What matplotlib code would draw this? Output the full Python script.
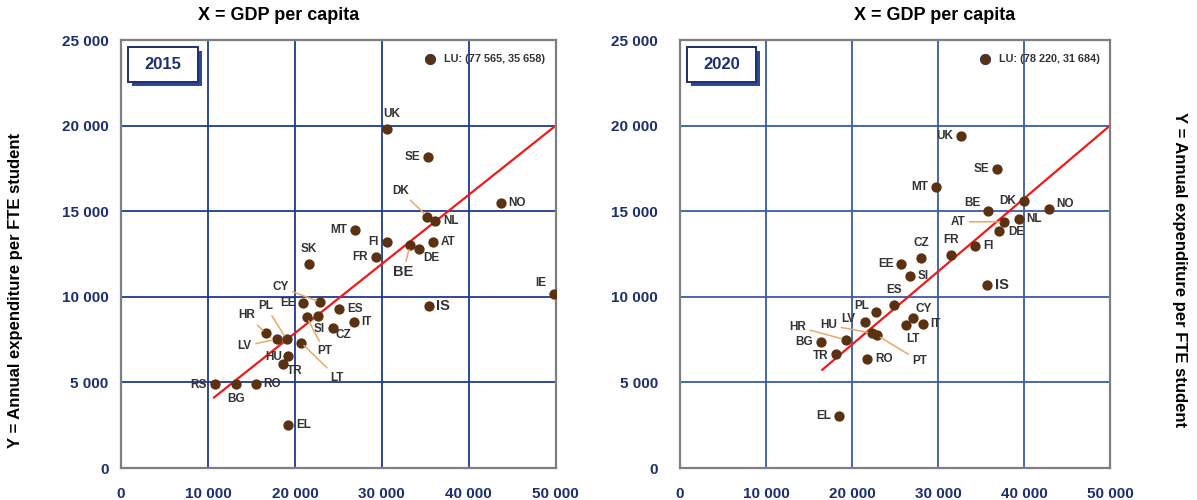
import numpy as np
import matplotlib
matplotlib.use('Agg')
import matplotlib.pyplot as plt
from matplotlib.patches import Rectangle

# data (x = GDP per capita, y = expenditure per FTE student)
countries_2015 = ['UK', 'SE', 'DK', 'NL', 'NO', 'MT', 'FI', 'AT', 'BE', 'DE', 'FR', 'SK', 'IE',
                  'CY', 'EE', 'IS', 'ES', 'SI', 'PT', 'IT', 'CZ', 'HR', 'LV', 'PL', 'LT', 'HU',
                  'TR', 'RS', 'BG', 'RO', 'EL']
gdp_2015 = [30550, 35350, 35230, 36150, 43670, 26900, 30550, 35880, 33240, 34270, 29330, 21580, 49840,
            22920, 20970, 35390, 25070, 22700, 21350, 26800, 24350, 16680, 17900, 19050, 20700, 19250,
            18600, 10770, 13190, 15490, 19250]
exp_2015 = [19830, 18170, 14690, 14440, 15490, 13930, 13210, 13210, 13000, 12780, 12300, 11910, 10180,
            9690, 9630, 9470, 9280, 8890, 8810, 8500, 8150, 7860, 7530, 7530, 7330, 6520,
            6070, 4900, 4920, 4920, 2530]
fit_x_2015 = [10700, 50000]
fit_y_2015 = [4120, 20000]
lu_2015 = (77565, 35658)

countries_2020 = ['UK', 'SE', 'MT', 'DK', 'NO', 'BE', 'NL', 'AT', 'DE', 'FI', 'FR', 'CZ', 'EE',
                  'SI', 'IS', 'ES', 'PL', 'CY', 'LV', 'LT', 'IT', 'HR', 'HU', 'PT', 'BG', 'TR',
                  'RO', 'EL']
gdp_2020 = [32670, 36900, 29800, 40000, 42870, 35850, 39380, 37670, 37130, 34340, 31510, 28020, 25740,
            26740, 35700, 24880, 22750, 27090, 21470, 26240, 28300, 19260, 22290, 22870, 16360, 18140,
            21780, 18450]
exp_2020 = [19380, 17450, 16440, 15620, 15120, 15000, 14530, 14380, 13830, 12940, 12430, 12280, 11890,
            11190, 10700, 9510, 9100, 8740, 8500, 8350, 8400, 7490, 7880, 7760, 7350, 6670,
            6380, 3050]
fit_x_2020 = [16550, 50000]
fit_y_2020 = [5740, 20000]
lu_2020 = (78220, 31684)

x_ticks = [0, 10000, 20000, 30000, 40000, 50000]
y_ticks = [0, 5000, 10000, 15000, 20000, 25000]

# label placement: dx, dy (pixels), alignment, leader line
lab_2015 = {
    'UK': (5, 15, 'center', False), 'SE': (-8, 0, 'right', False), 'DK': (-27, 26, 'center', True),
    'NL': (8, 0, 'left', False), 'NO': (8, 0, 'left', False), 'MT': (-8, 0, 'right', False),
    'FI': (-8, 0, 'right', False), 'AT': (8, 0, 'left', False), 'BE': (-7, -27, 'center', True),
    'DE': (12, -9, 'center', False), 'FR': (-8, 0, 'right', False), 'SK': (0, 15, 'center', False),
    'IE': (-14, 11, 'center', False), 'CY': (-40, 15, 'center', True), 'EE': (-8, 0, 'right', False),
    'IS': (7, 0, 'left', False), 'ES': (8, 0, 'left', False), 'SI': (1, -13, 'center', False),
    'PT': (18, -34, 'center', True), 'IT': (7, 0, 'left', False), 'CZ': (11, -7, 'center', False),
    'HR': (-19, 18, 'center', True), 'LV': (-32, -7, 'center', True), 'PL': (-21, 33, 'center', True),
    'LT': (36, -35, 'center', True), 'HU': (-6, -1, 'right', False), 'TR': (12, -7, 'center', False),
    'RS': (-8, -1, 'right', False), 'BG': (0, -15, 'center', False), 'RO': (8, 0, 'left', False),
    'EL': (8, 0, 'left', False),
}
lab_2020 = {
    'UK': (-8, 0, 'right', False), 'SE': (-8, 0, 'right', False), 'MT': (-8, 0, 'right', False),
    'DK': (-8, 0, 'right', False), 'NO': (8, 5, 'left', False), 'BE': (-16, 8, 'center', False),
    'NL': (8, 0, 'left', False), 'AT': (-46, 0, 'center', True), 'DE': (9, -1, 'left', False),
    'FI': (8, 0, 'left', False), 'FR': (0, 15, 'center', False), 'CZ': (0, 15, 'center', False),
    'EE': (-8, 0, 'right', False), 'SI': (8, 0, 'left', False), 'IS': (8, 0, 'left', False),
    'ES': (0, 15, 'center', False), 'PL': (-14, 6, 'center', False), 'CY': (11, 9, 'center', False),
    'LV': (-16, 3, 'center', False), 'LT': (7, -14, 'center', False), 'IT': (7, 0, 'left', False),
    'HR': (-48, 13, 'center', True), 'HU': (-43, 8, 'center', True), 'PT': (43, -26, 'center', True),
    'BG': (-8, 0, 'right', False), 'TR': (-8, -2, 'right', False), 'RO': (8, 0, 'left', False),
    'EL': (-8, 0, 'right', False),
}

arial = ['Liberation Sans', 'DejaVu Sans']
navy = '#1d2f6e'
brown = '#5a3212'
leader = '#e8a867'


def fmt(v):
    return '{:,}'.format(v).replace(',', ' ')


def panel(ax, year, names, xs, ys, fx, fy, lu, labs, big, gridc, ypad):
    ax.set_xlim(0, 50000)
    ax.set_ylim(0, 25000)
    for v in x_ticks[1:-1]:
        ax.axvline(v, color=gridc, lw=1.3, zorder=1)
    for v in y_ticks[1:-1]:
        ax.axhline(v, color=gridc, lw=1.3, zorder=1)
    for s in ax.spines.values():
        s.set_color('#7f7f7f')
        s.set_linewidth(1.6)
    ax.set_xticks(x_ticks)
    ax.set_yticks(y_ticks)
    ax.set_xticklabels([fmt(v) for v in x_ticks], family=arial, fontweight='bold', color=navy, fontsize=11)
    ax.set_yticklabels([fmt(v) for v in y_ticks], family=arial, fontweight='bold', color=navy, fontsize=11)
    ax.tick_params(axis='both', length=0)
    ax.tick_params(axis='x', pad=14)
    ax.tick_params(axis='y', pad=ypad)

    ax.plot(fx, fy, color='#f01a1a', lw=1.6, zorder=2)
    ax.scatter(xs, ys, s=55, color=brown, zorder=4, linewidths=0)

    for n, x, y in zip(names, xs, ys):
        dx, dy, ha, lead = labs[n]
        kw = dict(xy=(x, y), xytext=(dx, dy), textcoords='offset pixels', ha=ha, va='center',
                  fontsize=10.5 if n in big else 8.5, fontweight='bold', color='#333333',
                  family=arial, zorder=5)
        if lead:
            kw['arrowprops'] = dict(arrowstyle='-', color=leader, lw=1.1, shrinkA=1, shrinkB=3)
        ax.annotate(n, **kw)

    # LU annotation (off the chart)
    ax.scatter([0.71], [0.955], s=55, color=brown, transform=ax.transAxes, zorder=5,
               edgecolors='#2a2a5a', linewidths=0.6, clip_on=False)
    ax.text(0.743, 0.955, 'LU: (%s, %s)' % (fmt(lu[0]), fmt(lu[1])), transform=ax.transAxes,
            ha='left', va='center', fontsize=7.8, family=arial, fontweight='bold', color='#333333')

    # year box with shadow
    ax.add_patch(Rectangle((0.025, 0.893), 0.161, 0.082, transform=ax.transAxes,
                           facecolor='#2b4a95', edgecolor='none', zorder=6))
    ax.add_patch(Rectangle((0.016, 0.902), 0.161, 0.082, transform=ax.transAxes,
                           facecolor='white', edgecolor=navy, lw=1.4, zorder=7))
    ax.text(0.0965, 0.943, year, transform=ax.transAxes, ha='center', va='center',
            fontsize=12, fontweight='bold', color=navy, family=arial, zorder=8)


fig = plt.figure(figsize=(11.97, 5.0), dpi=100)
ax1 = fig.add_axes([0.1011, 0.064, 0.3632, 0.856])
ax2 = fig.add_axes([0.5681, 0.064, 0.3592, 0.856])

panel(ax1, '2015', countries_2015, gdp_2015, exp_2015, fit_x_2015, fit_y_2015, lu_2015, lab_2015,
      ('BE', 'IS'), '#1f3a8c', 9)
panel(ax2, '2020', countries_2020, gdp_2020, exp_2020, fit_x_2020, fit_y_2020, lu_2020, lab_2020,
      ('IS',), '#3a5aa3', 16)

fig.text(0.233, 0.97, 'X = GDP per capita', ha='center', va='center', fontsize=13,
         fontweight='bold', family=arial)
fig.text(0.781, 0.97, 'X = GDP per capita', ha='center', va='center', fontsize=13,
         fontweight='bold', family=arial)
fig.text(0.013, 0.42, 'Y = Annual expenditure per FTE student', rotation=90, ha='center', va='center',
         fontsize=12, fontweight='bold', family=arial)
fig.text(0.985, 0.46, 'Y = Annual expenditure per FTE student', rotation=-90, ha='center', va='center',
         fontsize=12, fontweight='bold', family=arial)

fig.savefig('out.png', dpi=100)
